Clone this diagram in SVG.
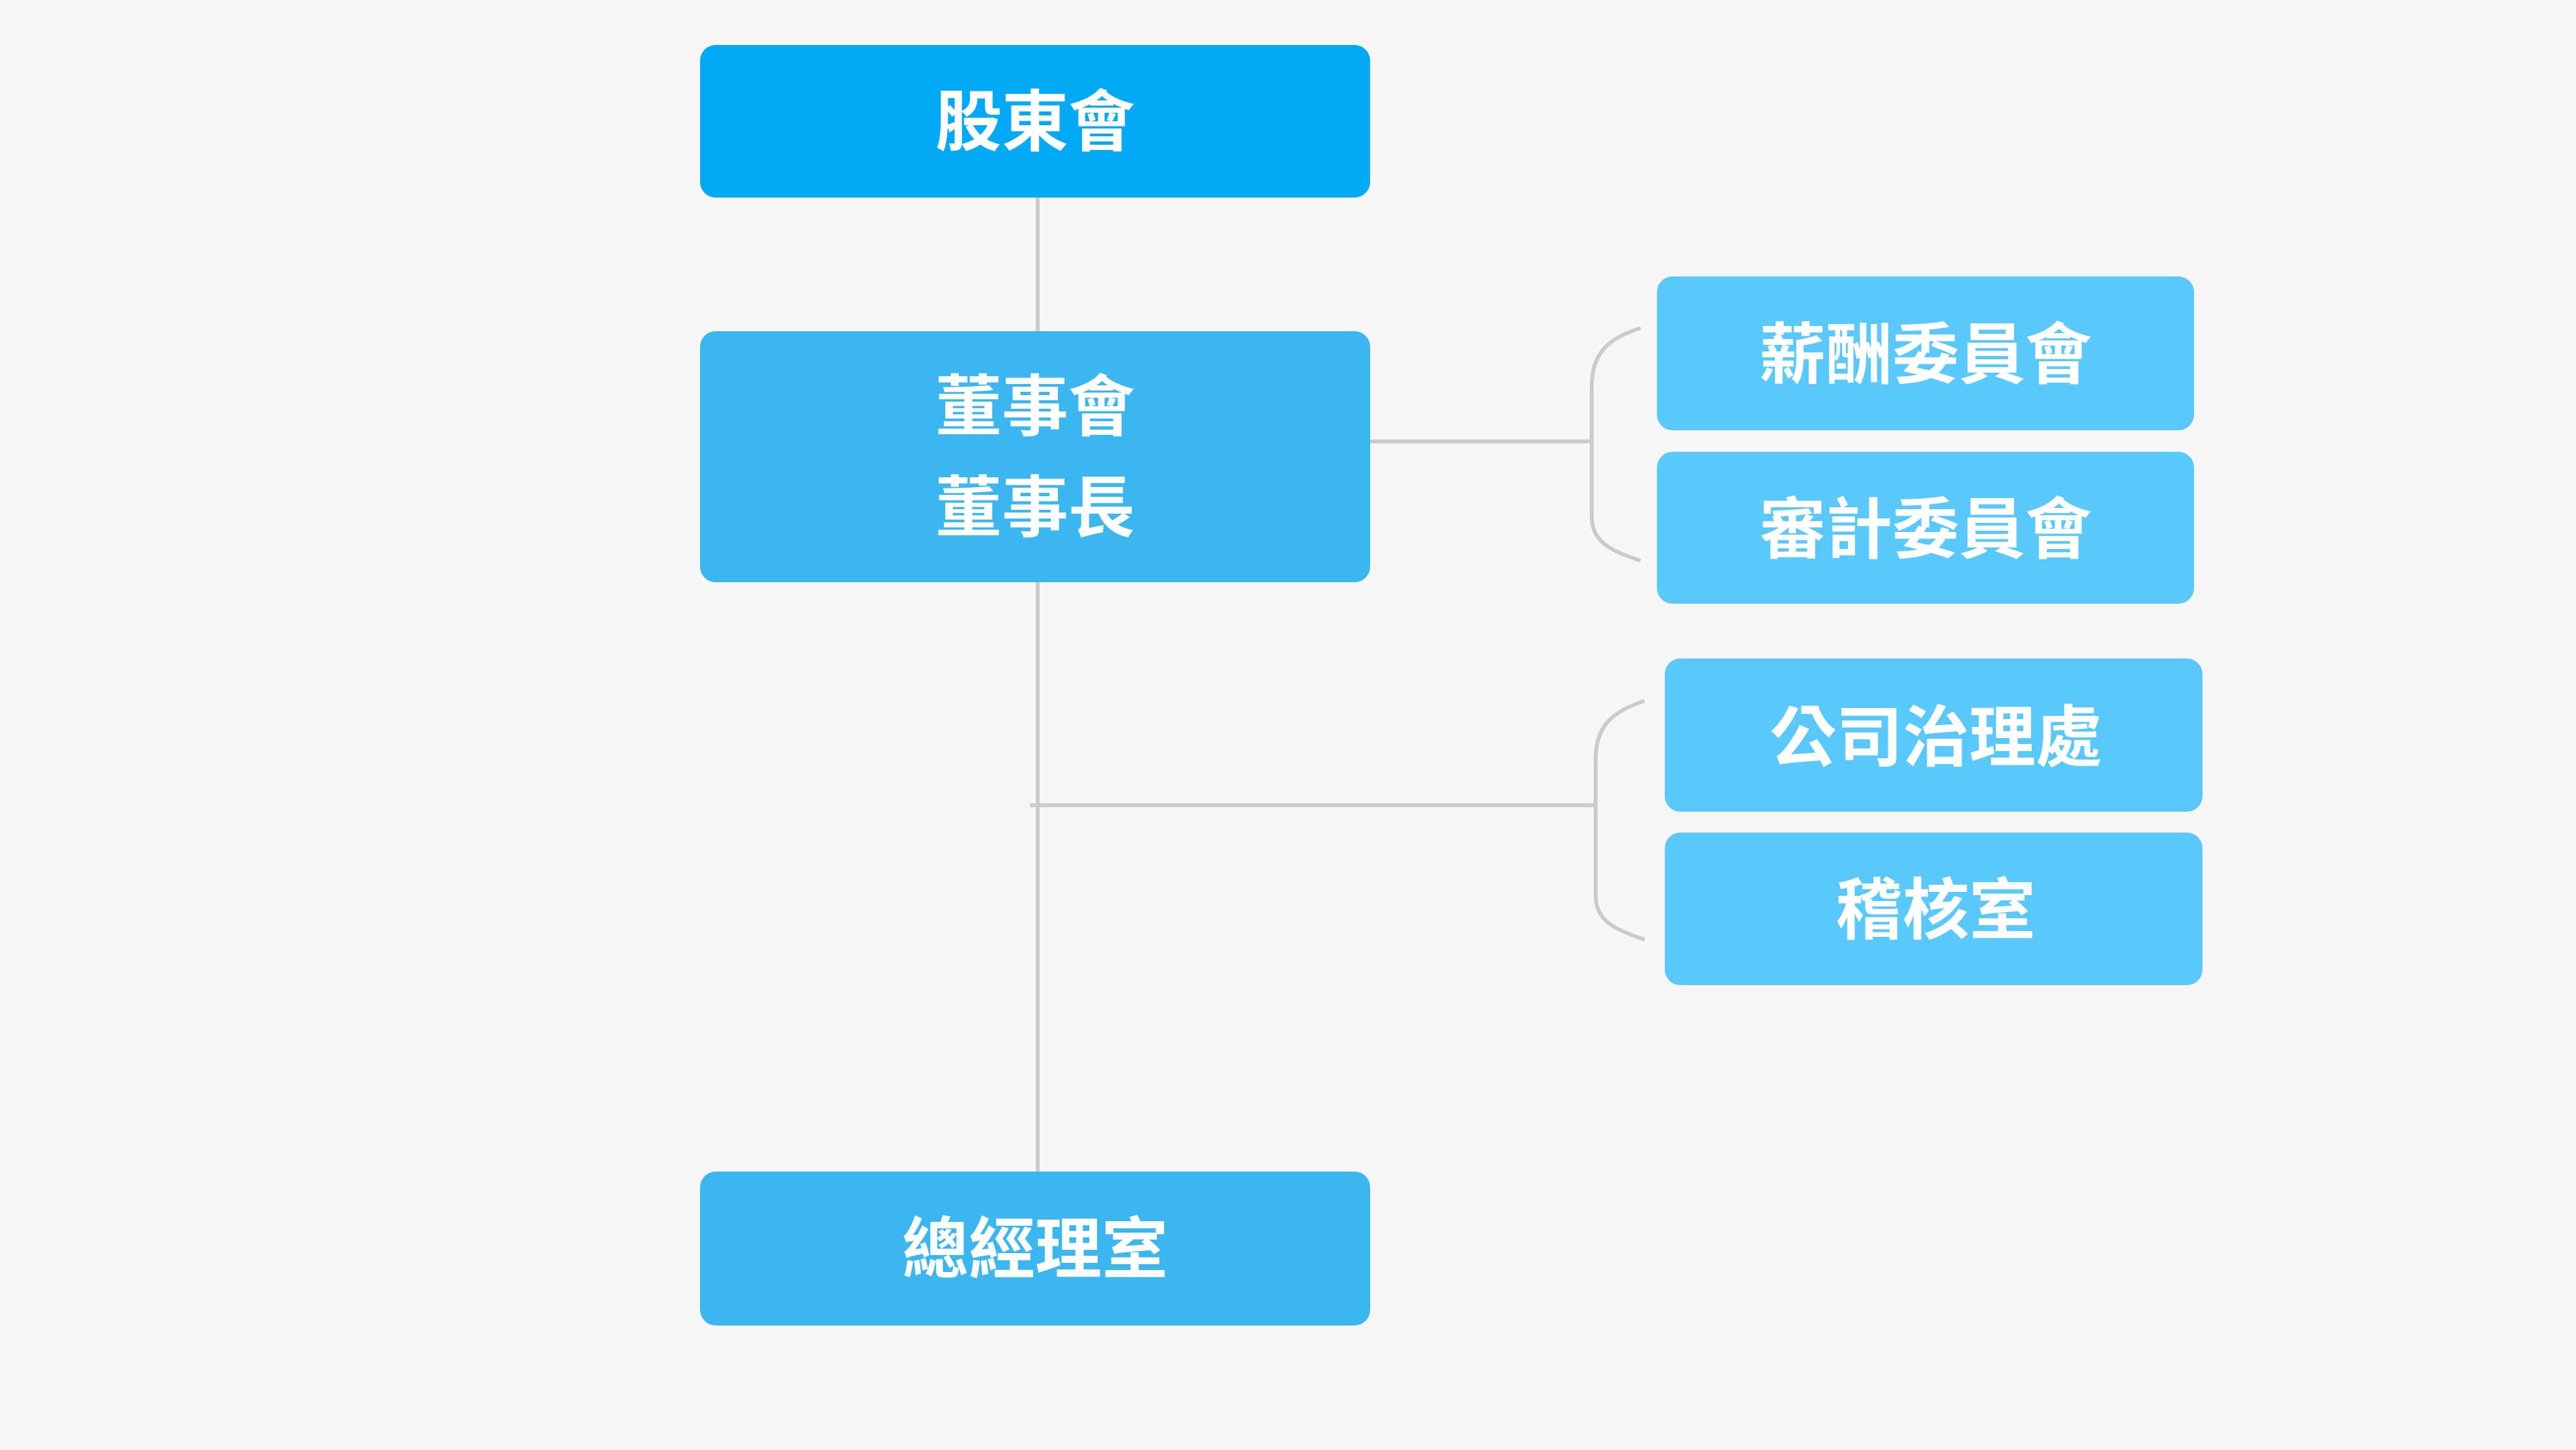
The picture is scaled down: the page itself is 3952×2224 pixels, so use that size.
<svg xmlns="http://www.w3.org/2000/svg" width="3952" height="2224" viewBox="0 0 3952 2224">
<style>
.lbl{font-family:"Noto Sans CJK TC","Noto Sans CJK SC",sans-serif;font-size:102px;font-weight:700;fill:#ffffff;text-anchor:middle;dominant-baseline:central}
.conn{fill:none;stroke:#cbcbcb;stroke-width:6}
.top{fill:#03a9f4}
.mid{fill:#3bb6ee}
.side{fill:#5bc8fc}
</style>
<rect width="3952" height="2224" fill="#f7f7f7"/>
<g id="connectors">
<line class="conn" x1="1592" y1="300" x2="1592" y2="1800"/>
<line class="conn" x1="2102" y1="677" x2="2442" y2="677"/>
<path class="conn" d="M2517,503 C2470,518 2442,540 2442,592 V793 C2442,830 2470,845 2517,860"/>
<line class="conn" x1="1580" y1="1235" x2="2448" y2="1235"/>
<path class="conn" d="M2523,1075 C2476,1090 2448,1112 2448,1164 V1374 C2448,1411 2476,1426 2523,1441"/>
</g>
<g id="node-shareholders">
<rect class="top" x="1074" y="69" width="1028" height="234" rx="24"/>
<text class="lbl" x="1588" y="178">股東會</text>
</g>
<g id="node-board">
<rect class="mid" x="1074" y="508" width="1028" height="385" rx="24"/>
<text class="lbl" x="1588" y="615">董事會</text>
<text class="lbl" x="1588" y="770">董事長</text>
</g>
<g id="node-compensation">
<rect class="side" x="2542" y="424" width="824" height="236" rx="24"/>
<text class="lbl" x="2954" y="535">薪酬委員會</text>
</g>
<g id="node-audit">
<rect class="side" x="2542" y="693" width="824" height="233" rx="24"/>
<text class="lbl" x="2954" y="803">審計委員會</text>
</g>
<g id="node-governance">
<rect class="side" x="2554" y="1010" width="825" height="235" rx="24"/>
<text class="lbl" x="2970" y="1122">公司治理處</text>
</g>
<g id="node-internal-audit">
<rect class="side" x="2554" y="1277" width="825" height="234" rx="24"/>
<text class="lbl" x="2970" y="1387">稽核室</text>
</g>
<g id="node-gm">
<rect class="mid" x="1074" y="1797" width="1028" height="236" rx="24"/>
<text class="lbl" x="1588" y="1907">總經理室</text>
</g>
</svg>
